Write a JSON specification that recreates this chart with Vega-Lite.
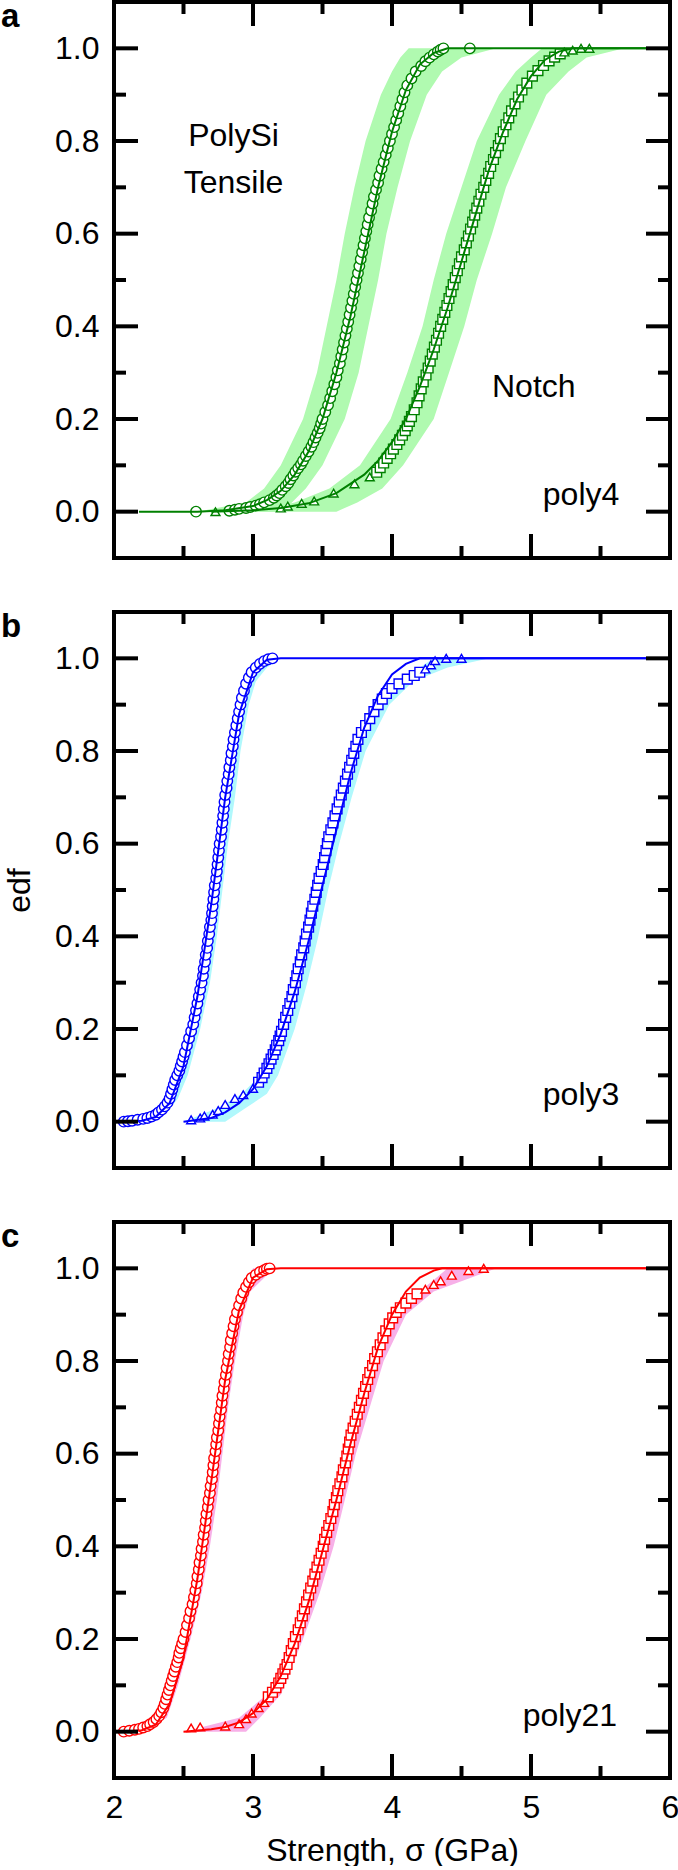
{
  "$schema": "https://vega.github.io/schema/vega-lite/v6.json",
  "padding": 0,
  "autosize": {"type": "pad"},
  "background": "white",
  "bounds": "flush",
  "spacing": 54,
  "datasets": {
    "ymaj": [{"v":0},{"v":0.2},{"v":0.4},{"v":0.6},{"v":0.8},{"v":1.0}],
    "ymin": [{"v":0.1},{"v":0.3},{"v":0.5},{"v":0.7},{"v":0.9}],
    "xmaj": [{"v":3},{"v":4},{"v":5}],
    "xmin": [{"v":2.5},{"v":3.5},{"v":4.5},{"v":5.5}],
    "a_bt": [{"y":0,"lo":2.6,"hi":3.2},{"y":0.02,"lo":2.95,"hi":3.28},{"y":0.05,"lo":3.08,"hi":3.38},{"y":0.1,"lo":3.2,"hi":3.5},{"y":0.2,"lo":3.36,"hi":3.66},{"y":0.3,"lo":3.46,"hi":3.76},{"y":0.4,"lo":3.53,"hi":3.83},{"y":0.5,"lo":3.6,"hi":3.9},{"y":0.6,"lo":3.66,"hi":3.96},{"y":0.7,"lo":3.73,"hi":4.04},{"y":0.8,"lo":3.81,"hi":4.13},{"y":0.9,"lo":3.92,"hi":4.25},{"y":0.95,"lo":4.0,"hi":4.36},{"y":0.98,"lo":4.06,"hi":4.5},{"y":1.0,"lo":4.12,"hi":4.75}],
    "a_bn": [{"y":0,"lo":3.0,"hi":3.6},{"y":0.02,"lo":3.3,"hi":3.75},{"y":0.05,"lo":3.55,"hi":3.93},{"y":0.1,"lo":3.77,"hi":4.08},{"y":0.2,"lo":3.99,"hi":4.3},{"y":0.3,"lo":4.11,"hi":4.41},{"y":0.4,"lo":4.22,"hi":4.52},{"y":0.5,"lo":4.3,"hi":4.61},{"y":0.6,"lo":4.39,"hi":4.72},{"y":0.7,"lo":4.5,"hi":4.82},{"y":0.8,"lo":4.61,"hi":4.96},{"y":0.9,"lo":4.77,"hi":5.11},{"y":0.95,"lo":4.89,"hi":5.27},{"y":0.98,"lo":5.0,"hi":5.4},{"y":1.0,"lo":5.08,"hi":5.67}],
    "a_fit": [
      {"s":"t","x":2.18,"y":0},{"s":"t","x":2.6,"y":0},{"s":"t","x":2.8,"y":0.003},{"s":"t","x":3.0,"y":0.012},{"s":"t","x":3.1,"y":0.025},{"s":"t","x":3.2,"y":0.045},{"s":"t","x":3.3,"y":0.08},{"s":"t","x":3.4,"y":0.13},{"s":"t","x":3.5,"y":0.2},{"s":"t","x":3.6,"y":0.3},{"s":"t","x":3.7,"y":0.42},{"s":"t","x":3.8,"y":0.56},{"s":"t","x":3.9,"y":0.7},{"s":"t","x":4.0,"y":0.82},{"s":"t","x":4.1,"y":0.91},{"s":"t","x":4.2,"y":0.965},{"s":"t","x":4.3,"y":0.99},{"s":"t","x":4.4,"y":1.0},{"s":"t","x":5.83,"y":1.0},
      {"s":"n","x":2.7,"y":0},{"s":"n","x":3.0,"y":0.003},{"s":"n","x":3.2,"y":0.008},{"s":"n","x":3.4,"y":0.018},{"s":"n","x":3.6,"y":0.04},{"s":"n","x":3.8,"y":0.08},{"s":"n","x":3.9,"y":0.11},{"s":"n","x":4.0,"y":0.15},{"s":"n","x":4.1,"y":0.2},{"s":"n","x":4.2,"y":0.27},{"s":"n","x":4.3,"y":0.35},{"s":"n","x":4.4,"y":0.44},{"s":"n","x":4.5,"y":0.54},{"s":"n","x":4.6,"y":0.64},{"s":"n","x":4.7,"y":0.74},{"s":"n","x":4.8,"y":0.82},{"s":"n","x":4.9,"y":0.89},{"s":"n","x":5.0,"y":0.94},{"s":"n","x":5.1,"y":0.975},{"s":"n","x":5.2,"y":0.993},{"s":"n","x":5.3,"y":1.0},{"s":"n","x":5.83,"y":1.0}
    ],
    "a_pts": [
      {"k":"tensile","y":0.0,"x":2.59},{"k":"tensile","y":0.002,"x":2.83},{"k":"tensile","y":0.004,"x":2.87},{"k":"tensile","y":0.006,"x":2.9},{"k":"tensile","y":0.008,"x":2.95},{"k":"tensile","y":0.01,"x":2.98},{"k":"tensile","y":0.013,"x":3.02},{"k":"tensile","y":0.016,"x":3.05},{"k":"tensile","y":0.02,"x":3.08},{"k":"tensile","y":0.025,"x":3.12},{"k":"tensile","y":0.03,"x":3.15},{"k":"tensile","y":0.035,"x":3.17},{"k":"tensile","y":0.04,"x":3.19},{"k":"tensile","y":0.047,"x":3.21},{"k":"tensile","y":0.055,"x":3.235},{"k":"tensile","y":0.062,"x":3.255},{"k":"tensile","y":0.07,"x":3.27},{"k":"tensile","y":0.078,"x":3.29},{"k":"tensile","y":0.086,"x":3.305},{"k":"tensile","y":0.094,"x":3.325},{"k":"tensile","y":0.102,"x":3.345},{"k":"tensile","y":0.11,"x":3.36},{"k":"tensile","y":0.12,"x":3.38},{"k":"tensile","y":0.13,"x":3.4},{"k":"tensile","y":0.14,"x":3.42},{"k":"tensile","y":0.15,"x":3.435},{"k":"tensile","y":0.16,"x":3.45},{"k":"tensile","y":0.17,"x":3.465},{"k":"tensile","y":0.18,"x":3.48},{"k":"tensile","y":0.19,"x":3.49},{"k":"tensile","y":0.2,"x":3.5},{"k":"tensile","y":0.215,"x":3.52},{"k":"tensile","y":0.23,"x":3.54},{"k":"tensile","y":0.245,"x":3.555},{"k":"tensile","y":0.26,"x":3.57},{"k":"tensile","y":0.275,"x":3.585},{"k":"tensile","y":0.29,"x":3.6},{"k":"tensile","y":0.305,"x":3.61},{"k":"tensile","y":0.32,"x":3.625},{"k":"tensile","y":0.335,"x":3.635},{"k":"tensile","y":0.35,"x":3.645},{"k":"tensile","y":0.365,"x":3.655},{"k":"tensile","y":0.38,"x":3.665},{"k":"tensile","y":0.395,"x":3.675},{"k":"tensile","y":0.41,"x":3.685},{"k":"tensile","y":0.425,"x":3.695},{"k":"tensile","y":0.44,"x":3.705},{"k":"tensile","y":0.455,"x":3.715},{"k":"tensile","y":0.47,"x":3.725},{"k":"tensile","y":0.485,"x":3.735},{"k":"tensile","y":0.5,"x":3.745},{"k":"tensile","y":0.515,"x":3.755},{"k":"tensile","y":0.53,"x":3.765},{"k":"tensile","y":0.545,"x":3.775},{"k":"tensile","y":0.56,"x":3.785},{"k":"tensile","y":0.575,"x":3.795},{"k":"tensile","y":0.59,"x":3.805},{"k":"tensile","y":0.605,"x":3.815},{"k":"tensile","y":0.62,"x":3.825},{"k":"tensile","y":0.635,"x":3.835},{"k":"tensile","y":0.65,"x":3.85},{"k":"tensile","y":0.665,"x":3.86},{"k":"tensile","y":0.68,"x":3.87},{"k":"tensile","y":0.695,"x":3.885},{"k":"tensile","y":0.71,"x":3.9},{"k":"tensile","y":0.725,"x":3.91},{"k":"tensile","y":0.74,"x":3.925},{"k":"tensile","y":0.755,"x":3.94},{"k":"tensile","y":0.77,"x":3.955},{"k":"tensile","y":0.785,"x":3.97},{"k":"tensile","y":0.8,"x":3.985},{"k":"tensile","y":0.815,"x":4.0},{"k":"tensile","y":0.83,"x":4.015},{"k":"tensile","y":0.845,"x":4.03},{"k":"tensile","y":0.86,"x":4.045},{"k":"tensile","y":0.875,"x":4.06},{"k":"tensile","y":0.89,"x":4.075},{"k":"tensile","y":0.905,"x":4.09},{"k":"tensile","y":0.92,"x":4.11},{"k":"tensile","y":0.935,"x":4.14},{"k":"tensile","y":0.95,"x":4.17},{"k":"tensile","y":0.962,"x":4.21},{"k":"tensile","y":0.972,"x":4.24},{"k":"tensile","y":0.98,"x":4.27},{"k":"tensile","y":0.987,"x":4.3},{"k":"tensile","y":0.993,"x":4.33},{"k":"tensile","y":0.997,"x":4.35},{"k":"tensile","y":1.0,"x":4.37},{"k":"tensile","y":1.0,"x":4.56},
      {"k":"tail","y":0.0,"x":2.73},{"k":"tail","y":0.008,"x":3.2},{"k":"tail","y":0.012,"x":3.25},{"k":"tail","y":0.018,"x":3.35},{"k":"tail","y":0.023,"x":3.44},{"k":"tail","y":0.04,"x":3.58},{"k":"tail","y":0.06,"x":3.73},{"k":"tail","y":0.075,"x":3.84},
      {"k":"notch","y":0.085,"x":3.89},{"k":"notch","y":0.095,"x":3.915},{"k":"notch","y":0.105,"x":3.94},{"k":"notch","y":0.115,"x":3.965},{"k":"notch","y":0.125,"x":3.99},{"k":"notch","y":0.135,"x":4.01},{"k":"notch","y":0.145,"x":4.035},{"k":"notch","y":0.155,"x":4.055},{"k":"notch","y":0.165,"x":4.075},{"k":"notch","y":0.175,"x":4.095},{"k":"notch","y":0.185,"x":4.11},{"k":"notch","y":0.195,"x":4.125},{"k":"notch","y":0.205,"x":4.14},{"k":"notch","y":0.22,"x":4.16},{"k":"notch","y":0.235,"x":4.18},{"k":"notch","y":0.25,"x":4.195},{"k":"notch","y":0.265,"x":4.21},{"k":"notch","y":0.28,"x":4.225},{"k":"notch","y":0.295,"x":4.245},{"k":"notch","y":0.31,"x":4.26},{"k":"notch","y":0.325,"x":4.275},{"k":"notch","y":0.34,"x":4.29},{"k":"notch","y":0.355,"x":4.305},{"k":"notch","y":0.37,"x":4.32},{"k":"notch","y":0.385,"x":4.335},{"k":"notch","y":0.4,"x":4.35},{"k":"notch","y":0.415,"x":4.365},{"k":"notch","y":0.43,"x":4.38},{"k":"notch","y":0.445,"x":4.395},{"k":"notch","y":0.46,"x":4.41},{"k":"notch","y":0.475,"x":4.425},{"k":"notch","y":0.49,"x":4.44},{"k":"notch","y":0.505,"x":4.455},{"k":"notch","y":0.52,"x":4.47},{"k":"notch","y":0.535,"x":4.485},{"k":"notch","y":0.55,"x":4.5},{"k":"notch","y":0.565,"x":4.52},{"k":"notch","y":0.58,"x":4.535},{"k":"notch","y":0.595,"x":4.55},{"k":"notch","y":0.61,"x":4.565},{"k":"notch","y":0.625,"x":4.58},{"k":"notch","y":0.64,"x":4.595},{"k":"notch","y":0.655,"x":4.61},{"k":"notch","y":0.67,"x":4.625},{"k":"notch","y":0.685,"x":4.64},{"k":"notch","y":0.7,"x":4.66},{"k":"notch","y":0.715,"x":4.675},{"k":"notch","y":0.73,"x":4.695},{"k":"notch","y":0.745,"x":4.71},{"k":"notch","y":0.76,"x":4.73},{"k":"notch","y":0.775,"x":4.745},{"k":"notch","y":0.79,"x":4.765},{"k":"notch","y":0.805,"x":4.78},{"k":"notch","y":0.82,"x":4.8},{"k":"notch","y":0.835,"x":4.82},{"k":"notch","y":0.85,"x":4.84},{"k":"notch","y":0.865,"x":4.86},{"k":"notch","y":0.88,"x":4.885},{"k":"notch","y":0.895,"x":4.91},{"k":"notch","y":0.91,"x":4.935},{"k":"notch","y":0.925,"x":4.97},{"k":"notch","y":0.94,"x":5.01},{"k":"notch","y":0.952,"x":5.05},{"k":"notch","y":0.963,"x":5.09},{"k":"notch","y":0.973,"x":5.13},{"k":"notch","y":0.981,"x":5.17},{"k":"notch","y":0.988,"x":5.21},
      {"k":"tail","y":0.992,"x":5.24},{"k":"tail","y":0.996,"x":5.3},{"k":"tail","y":1.0,"x":5.36},{"k":"tail","y":1.0,"x":5.42}
    ],
    "a_txt": [{"x":2.86,"y":0.81,"t":"PolySi"},{"x":2.86,"y":0.71,"t":"Tensile"},{"x":5.02,"y":0.27,"t":"Notch"},{"x":5.36,"y":0.035,"t":"poly4"}],
    "b_bt": [{"y":0,"lo":2.07,"hi":2.2},{"y":0.02,"lo":2.28,"hi":2.38},{"y":0.05,"lo":2.36,"hi":2.46},{"y":0.1,"lo":2.43,"hi":2.53},{"y":0.2,"lo":2.53,"hi":2.62},{"y":0.3,"lo":2.6,"hi":2.69},{"y":0.4,"lo":2.65,"hi":2.74},{"y":0.5,"lo":2.7,"hi":2.78},{"y":0.6,"lo":2.74,"hi":2.82},{"y":0.7,"lo":2.78,"hi":2.87},{"y":0.8,"lo":2.82,"hi":2.91},{"y":0.9,"lo":2.88,"hi":2.97},{"y":0.95,"lo":2.93,"hi":3.02},{"y":0.98,"lo":2.98,"hi":3.1},{"y":1.0,"lo":3.05,"hi":3.2}],
    "b_bn": [{"y":0,"lo":2.5,"hi":2.8},{"y":0.03,"lo":2.75,"hi":2.95},{"y":0.06,"lo":2.92,"hi":3.1},{"y":0.1,"lo":3.05,"hi":3.18},{"y":0.2,"lo":3.2,"hi":3.3},{"y":0.3,"lo":3.29,"hi":3.39},{"y":0.4,"lo":3.37,"hi":3.47},{"y":0.5,"lo":3.44,"hi":3.54},{"y":0.6,"lo":3.52,"hi":3.62},{"y":0.7,"lo":3.61,"hi":3.71},{"y":0.8,"lo":3.71,"hi":3.81},{"y":0.9,"lo":3.88,"hi":3.98},{"y":0.95,"lo":4.05,"hi":4.15},{"y":0.98,"lo":4.2,"hi":4.4},{"y":1.0,"lo":4.3,"hi":4.7}],
    "b_fit": [
      {"s":"t","x":2.05,"y":0},{"s":"t","x":2.2,"y":0.002},{"s":"t","x":2.3,"y":0.01},{"s":"t","x":2.4,"y":0.04},{"s":"t","x":2.5,"y":0.12},{"s":"t","x":2.6,"y":0.27},{"s":"t","x":2.7,"y":0.47},{"s":"t","x":2.8,"y":0.7},{"s":"t","x":2.9,"y":0.88},{"s":"t","x":3.0,"y":0.97},{"s":"t","x":3.1,"y":0.997},{"s":"t","x":3.2,"y":1.0},{"s":"t","x":5.83,"y":1.0},
      {"s":"n","x":2.5,"y":0},{"s":"n","x":2.7,"y":0.008},{"s":"n","x":2.8,"y":0.02},{"s":"n","x":2.9,"y":0.04},{"s":"n","x":3.0,"y":0.07},{"s":"n","x":3.1,"y":0.12},{"s":"n","x":3.2,"y":0.19},{"s":"n","x":3.3,"y":0.28},{"s":"n","x":3.4,"y":0.39},{"s":"n","x":3.5,"y":0.51},{"s":"n","x":3.6,"y":0.63},{"s":"n","x":3.7,"y":0.75},{"s":"n","x":3.8,"y":0.85},{"s":"n","x":3.9,"y":0.92},{"s":"n","x":4.0,"y":0.965},{"s":"n","x":4.1,"y":0.988},{"s":"n","x":4.2,"y":1.0},{"s":"n","x":5.83,"y":1.0}
    ],
    "b_pts": [
      {"k":"tensile","y":0.0,"x":2.07},{"k":"tensile","y":0.001,"x":2.1},{"k":"tensile","y":0.002,"x":2.13},{"k":"tensile","y":0.004,"x":2.17},{"k":"tensile","y":0.006,"x":2.21},{"k":"tensile","y":0.008,"x":2.24},{"k":"tensile","y":0.011,"x":2.27},{"k":"tensile","y":0.015,"x":2.3},{"k":"tensile","y":0.02,"x":2.32},{"k":"tensile","y":0.026,"x":2.345},{"k":"tensile","y":0.033,"x":2.365},{"k":"tensile","y":0.041,"x":2.385},{"k":"tensile","y":0.05,"x":2.4},{"k":"tensile","y":0.06,"x":2.41},{"k":"tensile","y":0.07,"x":2.42},{"k":"tensile","y":0.08,"x":2.43},{"k":"tensile","y":0.09,"x":2.44},{"k":"tensile","y":0.1,"x":2.455},{"k":"tensile","y":0.11,"x":2.47},{"k":"tensile","y":0.12,"x":2.48},{"k":"tensile","y":0.13,"x":2.49},{"k":"tensile","y":0.14,"x":2.5},{"k":"tensile","y":0.15,"x":2.51},{"k":"tensile","y":0.165,"x":2.525},{"k":"tensile","y":0.18,"x":2.54},{"k":"tensile","y":0.195,"x":2.555},{"k":"tensile","y":0.21,"x":2.57},{"k":"tensile","y":0.225,"x":2.58},{"k":"tensile","y":0.24,"x":2.59},{"k":"tensile","y":0.255,"x":2.6},{"k":"tensile","y":0.27,"x":2.61},{"k":"tensile","y":0.285,"x":2.62},{"k":"tensile","y":0.3,"x":2.63},{"k":"tensile","y":0.315,"x":2.64},{"k":"tensile","y":0.33,"x":2.645},{"k":"tensile","y":0.345,"x":2.655},{"k":"tensile","y":0.36,"x":2.66},{"k":"tensile","y":0.375,"x":2.67},{"k":"tensile","y":0.39,"x":2.675},{"k":"tensile","y":0.405,"x":2.685},{"k":"tensile","y":0.42,"x":2.69},{"k":"tensile","y":0.435,"x":2.7},{"k":"tensile","y":0.45,"x":2.705},{"k":"tensile","y":0.465,"x":2.71},{"k":"tensile","y":0.48,"x":2.715},{"k":"tensile","y":0.495,"x":2.72},{"k":"tensile","y":0.51,"x":2.725},{"k":"tensile","y":0.525,"x":2.735},{"k":"tensile","y":0.54,"x":2.74},{"k":"tensile","y":0.555,"x":2.745},{"k":"tensile","y":0.57,"x":2.75},{"k":"tensile","y":0.585,"x":2.755},{"k":"tensile","y":0.6,"x":2.76},{"k":"tensile","y":0.615,"x":2.77},{"k":"tensile","y":0.63,"x":2.775},{"k":"tensile","y":0.645,"x":2.78},{"k":"tensile","y":0.66,"x":2.785},{"k":"tensile","y":0.675,"x":2.79},{"k":"tensile","y":0.69,"x":2.795},{"k":"tensile","y":0.705,"x":2.8},{"k":"tensile","y":0.72,"x":2.81},{"k":"tensile","y":0.735,"x":2.815},{"k":"tensile","y":0.75,"x":2.825},{"k":"tensile","y":0.765,"x":2.83},{"k":"tensile","y":0.78,"x":2.84},{"k":"tensile","y":0.795,"x":2.845},{"k":"tensile","y":0.81,"x":2.855},{"k":"tensile","y":0.825,"x":2.86},{"k":"tensile","y":0.84,"x":2.87},{"k":"tensile","y":0.855,"x":2.88},{"k":"tensile","y":0.87,"x":2.89},{"k":"tensile","y":0.885,"x":2.9},{"k":"tensile","y":0.9,"x":2.91},{"k":"tensile","y":0.915,"x":2.92},{"k":"tensile","y":0.93,"x":2.935},{"k":"tensile","y":0.945,"x":2.95},{"k":"tensile","y":0.958,"x":2.97},{"k":"tensile","y":0.97,"x":2.99},{"k":"tensile","y":0.98,"x":3.02},{"k":"tensile","y":0.988,"x":3.05},{"k":"tensile","y":0.994,"x":3.08},{"k":"tensile","y":0.998,"x":3.11},{"k":"tensile","y":1.0,"x":3.14},
      {"k":"tail","y":0.004,"x":2.555},{"k":"tail","y":0.008,"x":2.62},{"k":"tail","y":0.012,"x":2.65},{"k":"tail","y":0.016,"x":2.71},{"k":"tail","y":0.024,"x":2.75},{"k":"tail","y":0.037,"x":2.8},{"k":"tail","y":0.05,"x":2.87},{"k":"tail","y":0.058,"x":2.93},{"k":"tail","y":0.072,"x":3.0},
      {"k":"notch","y":0.085,"x":3.04},{"k":"notch","y":0.095,"x":3.065},{"k":"notch","y":0.105,"x":3.08},{"k":"notch","y":0.115,"x":3.1},{"k":"notch","y":0.125,"x":3.115},{"k":"notch","y":0.135,"x":3.13},{"k":"notch","y":0.145,"x":3.145},{"k":"notch","y":0.155,"x":3.16},{"k":"notch","y":0.165,"x":3.17},{"k":"notch","y":0.175,"x":3.185},{"k":"notch","y":0.185,"x":3.195},{"k":"notch","y":0.195,"x":3.205},{"k":"notch","y":0.21,"x":3.22},{"k":"notch","y":0.225,"x":3.235},{"k":"notch","y":0.24,"x":3.25},{"k":"notch","y":0.255,"x":3.265},{"k":"notch","y":0.27,"x":3.28},{"k":"notch","y":0.285,"x":3.29},{"k":"notch","y":0.3,"x":3.305},{"k":"notch","y":0.315,"x":3.315},{"k":"notch","y":0.33,"x":3.325},{"k":"notch","y":0.345,"x":3.34},{"k":"notch","y":0.36,"x":3.35},{"k":"notch","y":0.375,"x":3.365},{"k":"notch","y":0.39,"x":3.375},{"k":"notch","y":0.405,"x":3.385},{"k":"notch","y":0.42,"x":3.4},{"k":"notch","y":0.435,"x":3.41},{"k":"notch","y":0.45,"x":3.42},{"k":"notch","y":0.465,"x":3.43},{"k":"notch","y":0.48,"x":3.445},{"k":"notch","y":0.495,"x":3.455},{"k":"notch","y":0.51,"x":3.465},{"k":"notch","y":0.525,"x":3.475},{"k":"notch","y":0.54,"x":3.49},{"k":"notch","y":0.555,"x":3.505},{"k":"notch","y":0.57,"x":3.515},{"k":"notch","y":0.585,"x":3.525},{"k":"notch","y":0.6,"x":3.535},{"k":"notch","y":0.615,"x":3.545},{"k":"notch","y":0.63,"x":3.56},{"k":"notch","y":0.645,"x":3.575},{"k":"notch","y":0.66,"x":3.59},{"k":"notch","y":0.675,"x":3.605},{"k":"notch","y":0.69,"x":3.62},{"k":"notch","y":0.705,"x":3.635},{"k":"notch","y":0.72,"x":3.65},{"k":"notch","y":0.735,"x":3.665},{"k":"notch","y":0.75,"x":3.68},{"k":"notch","y":0.765,"x":3.695},{"k":"notch","y":0.78,"x":3.71},{"k":"notch","y":0.795,"x":3.725},{"k":"notch","y":0.81,"x":3.74},{"k":"notch","y":0.825,"x":3.755},{"k":"notch","y":0.84,"x":3.78},{"k":"notch","y":0.855,"x":3.81},{"k":"notch","y":0.87,"x":3.84},{"k":"notch","y":0.885,"x":3.87},{"k":"notch","y":0.9,"x":3.9},{"k":"notch","y":0.912,"x":3.93},{"k":"notch","y":0.924,"x":3.96},{"k":"notch","y":0.935,"x":4.0},{"k":"notch","y":0.945,"x":4.05},{"k":"notch","y":0.955,"x":4.11},{"k":"notch","y":0.963,"x":4.16},{"k":"notch","y":0.97,"x":4.2},
      {"k":"tail","y":0.977,"x":4.24},{"k":"tail","y":0.986,"x":4.28},{"k":"tail","y":0.995,"x":4.31},{"k":"tail","y":1.0,"x":4.39},{"k":"tail","y":1.0,"x":4.5}
    ],
    "b_txt": [{"x":5.36,"y":0.058,"t":"poly3"}],
    "c_bt": [{"y":0,"lo":2.07,"hi":2.2},{"y":0.03,"lo":2.3,"hi":2.38},{"y":0.1,"lo":2.39,"hi":2.46},{"y":0.2,"lo":2.48,"hi":2.55},{"y":0.3,"lo":2.56,"hi":2.63},{"y":0.4,"lo":2.62,"hi":2.69},{"y":0.5,"lo":2.67,"hi":2.74},{"y":0.6,"lo":2.71,"hi":2.78},{"y":0.7,"lo":2.76,"hi":2.82},{"y":0.8,"lo":2.8,"hi":2.87},{"y":0.9,"lo":2.86,"hi":2.93},{"y":0.95,"lo":2.91,"hi":2.98},{"y":1.0,"lo":3.0,"hi":3.15}],
    "c_bn": [{"y":0,"lo":2.5,"hi":2.95},{"y":0.03,"lo":2.9,"hi":3.05},{"y":0.08,"lo":3.1,"hi":3.2},{"y":0.2,"lo":3.28,"hi":3.36},{"y":0.3,"lo":3.4,"hi":3.48},{"y":0.4,"lo":3.5,"hi":3.58},{"y":0.5,"lo":3.58,"hi":3.66},{"y":0.6,"lo":3.66,"hi":3.74},{"y":0.7,"lo":3.76,"hi":3.84},{"y":0.8,"lo":3.86,"hi":3.94},{"y":0.9,"lo":4.02,"hi":4.1},{"y":0.95,"lo":4.2,"hi":4.3},{"y":1.0,"lo":4.4,"hi":4.75}],
    "c_fit": [
      {"s":"t","x":2.05,"y":0},{"s":"t","x":2.2,"y":0.003},{"s":"t","x":2.3,"y":0.015},{"s":"t","x":2.4,"y":0.06},{"s":"t","x":2.5,"y":0.16},{"s":"t","x":2.6,"y":0.33},{"s":"t","x":2.7,"y":0.54},{"s":"t","x":2.8,"y":0.76},{"s":"t","x":2.9,"y":0.91},{"s":"t","x":3.0,"y":0.98},{"s":"t","x":3.1,"y":0.998},{"s":"t","x":3.2,"y":1.0},{"s":"t","x":5.83,"y":1.0},
      {"s":"n","x":2.5,"y":0},{"s":"n","x":2.7,"y":0.005},{"s":"n","x":2.8,"y":0.01},{"s":"n","x":2.9,"y":0.02},{"s":"n","x":3.0,"y":0.04},{"s":"n","x":3.1,"y":0.07},{"s":"n","x":3.2,"y":0.12},{"s":"n","x":3.3,"y":0.19},{"s":"n","x":3.4,"y":0.28},{"s":"n","x":3.5,"y":0.39},{"s":"n","x":3.6,"y":0.5},{"s":"n","x":3.7,"y":0.62},{"s":"n","x":3.8,"y":0.73},{"s":"n","x":3.9,"y":0.83},{"s":"n","x":4.0,"y":0.9},{"s":"n","x":4.1,"y":0.95},{"s":"n","x":4.2,"y":0.98},{"s":"n","x":4.3,"y":0.995},{"s":"n","x":4.36,"y":1.0},{"s":"n","x":5.83,"y":1.0}
    ],
    "c_pts": [
      {"k":"tensile","y":0.0,"x":2.07},{"k":"tensile","y":0.002,"x":2.11},{"k":"tensile","y":0.004,"x":2.15},{"k":"tensile","y":0.006,"x":2.18},{"k":"tensile","y":0.009,"x":2.21},{"k":"tensile","y":0.012,"x":2.24},{"k":"tensile","y":0.016,"x":2.26},{"k":"tensile","y":0.021,"x":2.285},{"k":"tensile","y":0.027,"x":2.305},{"k":"tensile","y":0.034,"x":2.325},{"k":"tensile","y":0.042,"x":2.34},{"k":"tensile","y":0.051,"x":2.355},{"k":"tensile","y":0.06,"x":2.365},{"k":"tensile","y":0.07,"x":2.375},{"k":"tensile","y":0.08,"x":2.385},{"k":"tensile","y":0.09,"x":2.395},{"k":"tensile","y":0.1,"x":2.405},{"k":"tensile","y":0.11,"x":2.415},{"k":"tensile","y":0.12,"x":2.425},{"k":"tensile","y":0.13,"x":2.435},{"k":"tensile","y":0.14,"x":2.445},{"k":"tensile","y":0.15,"x":2.455},{"k":"tensile","y":0.16,"x":2.465},{"k":"tensile","y":0.17,"x":2.47},{"k":"tensile","y":0.18,"x":2.48},{"k":"tensile","y":0.19,"x":2.49},{"k":"tensile","y":0.2,"x":2.5},{"k":"tensile","y":0.215,"x":2.515},{"k":"tensile","y":0.23,"x":2.525},{"k":"tensile","y":0.245,"x":2.54},{"k":"tensile","y":0.26,"x":2.55},{"k":"tensile","y":0.275,"x":2.565},{"k":"tensile","y":0.29,"x":2.575},{"k":"tensile","y":0.305,"x":2.585},{"k":"tensile","y":0.32,"x":2.595},{"k":"tensile","y":0.335,"x":2.6},{"k":"tensile","y":0.35,"x":2.61},{"k":"tensile","y":0.365,"x":2.615},{"k":"tensile","y":0.38,"x":2.625},{"k":"tensile","y":0.395,"x":2.63},{"k":"tensile","y":0.41,"x":2.64},{"k":"tensile","y":0.425,"x":2.645},{"k":"tensile","y":0.44,"x":2.655},{"k":"tensile","y":0.455,"x":2.66},{"k":"tensile","y":0.47,"x":2.665},{"k":"tensile","y":0.485,"x":2.675},{"k":"tensile","y":0.5,"x":2.68},{"k":"tensile","y":0.515,"x":2.69},{"k":"tensile","y":0.53,"x":2.695},{"k":"tensile","y":0.545,"x":2.705},{"k":"tensile","y":0.56,"x":2.71},{"k":"tensile","y":0.575,"x":2.715},{"k":"tensile","y":0.59,"x":2.72},{"k":"tensile","y":0.605,"x":2.73},{"k":"tensile","y":0.62,"x":2.735},{"k":"tensile","y":0.635,"x":2.74},{"k":"tensile","y":0.65,"x":2.75},{"k":"tensile","y":0.665,"x":2.755},{"k":"tensile","y":0.68,"x":2.76},{"k":"tensile","y":0.695,"x":2.77},{"k":"tensile","y":0.71,"x":2.775},{"k":"tensile","y":0.725,"x":2.78},{"k":"tensile","y":0.74,"x":2.79},{"k":"tensile","y":0.755,"x":2.795},{"k":"tensile","y":0.77,"x":2.805},{"k":"tensile","y":0.785,"x":2.81},{"k":"tensile","y":0.8,"x":2.82},{"k":"tensile","y":0.815,"x":2.825},{"k":"tensile","y":0.83,"x":2.835},{"k":"tensile","y":0.845,"x":2.84},{"k":"tensile","y":0.86,"x":2.85},{"k":"tensile","y":0.875,"x":2.86},{"k":"tensile","y":0.89,"x":2.87},{"k":"tensile","y":0.905,"x":2.885},{"k":"tensile","y":0.92,"x":2.9},{"k":"tensile","y":0.935,"x":2.915},{"k":"tensile","y":0.948,"x":2.93},{"k":"tensile","y":0.96,"x":2.95},{"k":"tensile","y":0.97,"x":2.97},{"k":"tensile","y":0.979,"x":2.99},{"k":"tensile","y":0.986,"x":3.02},{"k":"tensile","y":0.992,"x":3.05},{"k":"tensile","y":0.996,"x":3.08},{"k":"tensile","y":0.999,"x":3.1},{"k":"tensile","y":1.0,"x":3.12},
      {"k":"tail","y":0.008,"x":2.555},{"k":"tail","y":0.01,"x":2.62},{"k":"tail","y":0.012,"x":2.8},{"k":"tail","y":0.017,"x":2.9},{"k":"tail","y":0.028,"x":2.95},{"k":"tail","y":0.04,"x":2.99},{"k":"tail","y":0.052,"x":3.04},{"k":"tail","y":0.063,"x":3.08},
      {"k":"notch","y":0.075,"x":3.11},{"k":"notch","y":0.085,"x":3.14},{"k":"notch","y":0.095,"x":3.165},{"k":"notch","y":0.105,"x":3.185},{"k":"notch","y":0.115,"x":3.2},{"k":"notch","y":0.125,"x":3.215},{"k":"notch","y":0.135,"x":3.23},{"k":"notch","y":0.145,"x":3.245},{"k":"notch","y":0.16,"x":3.26},{"k":"notch","y":0.175,"x":3.275},{"k":"notch","y":0.19,"x":3.29},{"k":"notch","y":0.205,"x":3.305},{"k":"notch","y":0.22,"x":3.325},{"k":"notch","y":0.235,"x":3.34},{"k":"notch","y":0.25,"x":3.355},{"k":"notch","y":0.265,"x":3.37},{"k":"notch","y":0.28,"x":3.385},{"k":"notch","y":0.295,"x":3.4},{"k":"notch","y":0.31,"x":3.415},{"k":"notch","y":0.325,"x":3.43},{"k":"notch","y":0.34,"x":3.445},{"k":"notch","y":0.355,"x":3.46},{"k":"notch","y":0.37,"x":3.475},{"k":"notch","y":0.385,"x":3.49},{"k":"notch","y":0.4,"x":3.505},{"k":"notch","y":0.415,"x":3.515},{"k":"notch","y":0.43,"x":3.53},{"k":"notch","y":0.445,"x":3.545},{"k":"notch","y":0.46,"x":3.56},{"k":"notch","y":0.475,"x":3.575},{"k":"notch","y":0.49,"x":3.585},{"k":"notch","y":0.505,"x":3.6},{"k":"notch","y":0.52,"x":3.61},{"k":"notch","y":0.535,"x":3.625},{"k":"notch","y":0.55,"x":3.64},{"k":"notch","y":0.565,"x":3.65},{"k":"notch","y":0.58,"x":3.665},{"k":"notch","y":0.595,"x":3.675},{"k":"notch","y":0.61,"x":3.685},{"k":"notch","y":0.625,"x":3.695},{"k":"notch","y":0.64,"x":3.705},{"k":"notch","y":0.655,"x":3.72},{"k":"notch","y":0.67,"x":3.735},{"k":"notch","y":0.685,"x":3.75},{"k":"notch","y":0.7,"x":3.765},{"k":"notch","y":0.715,"x":3.78},{"k":"notch","y":0.73,"x":3.795},{"k":"notch","y":0.745,"x":3.81},{"k":"notch","y":0.76,"x":3.825},{"k":"notch","y":0.775,"x":3.84},{"k":"notch","y":0.79,"x":3.86},{"k":"notch","y":0.805,"x":3.875},{"k":"notch","y":0.82,"x":3.895},{"k":"notch","y":0.835,"x":3.915},{"k":"notch","y":0.85,"x":3.935},{"k":"notch","y":0.865,"x":3.955},{"k":"notch","y":0.88,"x":3.98},{"k":"notch","y":0.893,"x":4.005},{"k":"notch","y":0.905,"x":4.03},{"k":"notch","y":0.915,"x":4.06},{"k":"notch","y":0.925,"x":4.1},{"k":"notch","y":0.935,"x":4.14},{"k":"notch","y":0.945,"x":4.18},
      {"k":"tail","y":0.955,"x":4.24},{"k":"tail","y":0.965,"x":4.3},{"k":"tail","y":0.973,"x":4.35},{"k":"tail","y":0.985,"x":4.43},{"k":"tail","y":0.995,"x":4.55},{"k":"tail","y":1.0,"x":4.66}
    ],
    "c_txt": [{"x":5.28,"y":0.033,"t":"poly21"}]
  },
  "vconcat": [
    {
      "width": 556, "height": 556,
      "view": {"stroke": null},
      "layer": [
        {"data": {"name": "a_bt"}, "mark": {"type": "area", "orient": "horizontal", "color": "#b0fab0"},
         "encoding": {
           "y": {"field": "y", "type": "quantitative", "scale": {"domain": [-0.1, 1.1], "nice": false, "zero": false}, "axis": {"orient": "left", "ticks": false, "tickSize": 0, "domain": false, "values": [0, 0.2, 0.4, 0.6, 0.8, 1], "format": ".1f", "labelPadding": 15, "title": null}},
           "x": {"field": "lo", "type": "quantitative", "scale": {"domain": [2, 6], "nice": false, "zero": false}, "axis": null},
           "x2": {"field": "hi"}}},
        {"data": {"name": "a_bn"}, "mark": {"type": "area", "orient": "horizontal", "color": "#b0fab0"},
         "encoding": {"y": {"field": "y", "type": "quantitative"}, "x": {"field": "lo", "type": "quantitative"}, "x2": {"field": "hi"}}},
        {"data": {"name": "a_pts"}, "mark": {"type": "point", "filled": true, "fill": "white", "stroke": "#008000", "strokeWidth": 1.4, "opacity": 1},
         "encoding": {
           "shape": {"field": "k", "type": "nominal", "scale": {"domain": ["tensile", "notch", "tail"], "range": ["circle", "square", "triangle-up"]}, "legend": null},
           "size": {"field": "k", "type": "nominal", "scale": {"domain": ["tensile", "notch", "tail"], "range": [110, 80, 170]}, "legend": null},
           "y": {"field": "y", "type": "quantitative"}, "x": {"field": "x", "type": "quantitative"}}},
        {"data": {"name": "a_fit"}, "mark": {"type": "line", "color": "#008000", "strokeWidth": 2},
         "encoding": {"detail": {"field": "s"}, "y": {"field": "y", "type": "quantitative"}, "x": {"field": "x", "type": "quantitative"}}},
        {"data": {"name": "a_txt"}, "mark": {"type": "text", "fontSize": 32, "font": "Liberation Sans", "color": "black", "align": "center", "baseline": "middle"},
         "encoding": {"text": {"field": "t"}, "y": {"field": "y", "type": "quantitative"}, "x": {"field": "x", "type": "quantitative"}}},
        {"data": {"values": [{"t": "a"}]}, "mark": {"type": "text", "fontSize": 33, "fontWeight": "bold", "font": "Liberation Sans", "color": "black", "align": "left", "baseline": "alphabetic"},
         "encoding": {"text": {"field": "t"}, "x": {"datum": 1.187, "type": "quantitative"}, "y": {"datum": 1.0471, "type": "quantitative"}}},
        {"data": {"name": "ymaj"}, "mark": {"type": "rule", "color": "black", "strokeWidth": 4}, "encoding": {"y": {"field": "v", "type": "quantitative"}, "x": {"datum": 2}, "x2": {"datum": 2.1727}}},
        {"data": {"name": "ymaj"}, "mark": {"type": "rule", "color": "black", "strokeWidth": 4}, "encoding": {"y": {"field": "v", "type": "quantitative"}, "x": {"datum": 6}, "x2": {"datum": 5.8273}}},
        {"data": {"name": "ymin"}, "mark": {"type": "rule", "color": "black", "strokeWidth": 4}, "encoding": {"y": {"field": "v", "type": "quantitative"}, "x": {"datum": 2}, "x2": {"datum": 2.0863}}},
        {"data": {"name": "ymin"}, "mark": {"type": "rule", "color": "black", "strokeWidth": 4}, "encoding": {"y": {"field": "v", "type": "quantitative"}, "x": {"datum": 6}, "x2": {"datum": 5.9137}}},
        {"data": {"name": "xmaj"}, "mark": {"type": "rule", "color": "black", "strokeWidth": 4}, "encoding": {"x": {"field": "v", "type": "quantitative"}, "y": {"datum": -0.1}, "y2": {"datum": -0.0482}}},
        {"data": {"name": "xmaj"}, "mark": {"type": "rule", "color": "black", "strokeWidth": 4}, "encoding": {"x": {"field": "v", "type": "quantitative"}, "y": {"datum": 1.1}, "y2": {"datum": 1.0482}}},
        {"data": {"name": "xmin"}, "mark": {"type": "rule", "color": "black", "strokeWidth": 4}, "encoding": {"x": {"field": "v", "type": "quantitative"}, "y": {"datum": -0.1}, "y2": {"datum": -0.0741}}},
        {"data": {"name": "xmin"}, "mark": {"type": "rule", "color": "black", "strokeWidth": 4}, "encoding": {"x": {"field": "v", "type": "quantitative"}, "y": {"datum": 1.1}, "y2": {"datum": 1.0741}}},
        {"data": {"values": [{}]}, "mark": {"type": "rect", "filled": false, "fill": null, "stroke": "black", "strokeWidth": 4}, "encoding": {"x": {"datum": 2}, "x2": {"datum": 6}, "y": {"datum": -0.1}, "y2": {"datum": 1.1}}}
      ]
    },
    {
      "width": 556, "height": 556,
      "view": {"stroke": null},
      "layer": [
        {"data": {"name": "b_bt"}, "mark": {"type": "area", "orient": "horizontal", "color": "#b0f8fc"},
         "encoding": {
           "y": {"field": "y", "type": "quantitative", "scale": {"domain": [-0.1, 1.1], "nice": false, "zero": false}, "axis": {"orient": "left", "ticks": false, "tickSize": 0, "domain": false, "values": [0, 0.2, 0.4, 0.6, 0.8, 1], "format": ".1f", "labelPadding": 15, "title": "edf", "titlePadding": 18}},
           "x": {"field": "lo", "type": "quantitative", "scale": {"domain": [2, 6], "nice": false, "zero": false}, "axis": null},
           "x2": {"field": "hi"}}},
        {"data": {"name": "b_bn"}, "mark": {"type": "area", "orient": "horizontal", "color": "#b0f8fc"},
         "encoding": {"y": {"field": "y", "type": "quantitative"}, "x": {"field": "lo", "type": "quantitative"}, "x2": {"field": "hi"}}},
        {"data": {"name": "b_pts"}, "mark": {"type": "point", "filled": true, "fill": "white", "stroke": "#0000ff", "strokeWidth": 1.4, "opacity": 1},
         "encoding": {
           "shape": {"field": "k", "type": "nominal", "scale": {"domain": ["tensile", "notch", "tail"], "range": ["circle", "square", "triangle-up"]}, "legend": null},
           "size": {"field": "k", "type": "nominal", "scale": {"domain": ["tensile", "notch", "tail"], "range": [110, 80, 170]}, "legend": null},
           "y": {"field": "y", "type": "quantitative"}, "x": {"field": "x", "type": "quantitative"}}},
        {"data": {"name": "b_fit"}, "mark": {"type": "line", "color": "#0000ff", "strokeWidth": 2},
         "encoding": {"detail": {"field": "s"}, "y": {"field": "y", "type": "quantitative"}, "x": {"field": "x", "type": "quantitative"}}},
        {"data": {"name": "b_txt"}, "mark": {"type": "text", "fontSize": 32, "font": "Liberation Sans", "color": "black", "align": "center", "baseline": "middle"},
         "encoding": {"text": {"field": "t"}, "y": {"field": "y", "type": "quantitative"}, "x": {"field": "x", "type": "quantitative"}}},
        {"data": {"values": [{"t": "b"}]}, "mark": {"type": "text", "fontSize": 33, "fontWeight": "bold", "font": "Liberation Sans", "color": "black", "align": "left", "baseline": "alphabetic"},
         "encoding": {"text": {"field": "t"}, "x": {"datum": 1.187, "type": "quantitative"}, "y": {"datum": 1.0471, "type": "quantitative"}}},
        {"data": {"name": "ymaj"}, "mark": {"type": "rule", "color": "black", "strokeWidth": 4}, "encoding": {"y": {"field": "v", "type": "quantitative"}, "x": {"datum": 2}, "x2": {"datum": 2.1727}}},
        {"data": {"name": "ymaj"}, "mark": {"type": "rule", "color": "black", "strokeWidth": 4}, "encoding": {"y": {"field": "v", "type": "quantitative"}, "x": {"datum": 6}, "x2": {"datum": 5.8273}}},
        {"data": {"name": "ymin"}, "mark": {"type": "rule", "color": "black", "strokeWidth": 4}, "encoding": {"y": {"field": "v", "type": "quantitative"}, "x": {"datum": 2}, "x2": {"datum": 2.0863}}},
        {"data": {"name": "ymin"}, "mark": {"type": "rule", "color": "black", "strokeWidth": 4}, "encoding": {"y": {"field": "v", "type": "quantitative"}, "x": {"datum": 6}, "x2": {"datum": 5.9137}}},
        {"data": {"name": "xmaj"}, "mark": {"type": "rule", "color": "black", "strokeWidth": 4}, "encoding": {"x": {"field": "v", "type": "quantitative"}, "y": {"datum": -0.1}, "y2": {"datum": -0.0482}}},
        {"data": {"name": "xmaj"}, "mark": {"type": "rule", "color": "black", "strokeWidth": 4}, "encoding": {"x": {"field": "v", "type": "quantitative"}, "y": {"datum": 1.1}, "y2": {"datum": 1.0482}}},
        {"data": {"name": "xmin"}, "mark": {"type": "rule", "color": "black", "strokeWidth": 4}, "encoding": {"x": {"field": "v", "type": "quantitative"}, "y": {"datum": -0.1}, "y2": {"datum": -0.0741}}},
        {"data": {"name": "xmin"}, "mark": {"type": "rule", "color": "black", "strokeWidth": 4}, "encoding": {"x": {"field": "v", "type": "quantitative"}, "y": {"datum": 1.1}, "y2": {"datum": 1.0741}}},
        {"data": {"values": [{}]}, "mark": {"type": "rect", "filled": false, "fill": null, "stroke": "black", "strokeWidth": 4}, "encoding": {"x": {"datum": 2}, "x2": {"datum": 6}, "y": {"datum": -0.1}, "y2": {"datum": 1.1}}}
      ]
    },
    {
      "width": 556, "height": 556,
      "view": {"stroke": null},
      "layer": [
        {"data": {"name": "c_bt"}, "mark": {"type": "area", "orient": "horizontal", "color": "#f7b0e8"},
         "encoding": {
           "y": {"field": "y", "type": "quantitative", "scale": {"domain": [-0.1, 1.1], "nice": false, "zero": false}, "axis": {"orient": "left", "ticks": false, "tickSize": 0, "domain": false, "values": [0, 0.2, 0.4, 0.6, 0.8, 1], "format": ".1f", "labelPadding": 15, "title": null}},
           "x": {"field": "lo", "type": "quantitative", "scale": {"domain": [2, 6], "nice": false, "zero": false}, "axis": {"orient": "bottom", "ticks": false, "tickSize": 0, "domain": false, "values": [2, 3, 4, 5, 6], "format": "d", "labelFlush": false, "labelPadding": 14, "title": "Strength, σ (GPa)", "titlePadding": 12}},
           "x2": {"field": "hi"}}},
        {"data": {"name": "c_bn"}, "mark": {"type": "area", "orient": "horizontal", "color": "#f7b0e8"},
         "encoding": {"y": {"field": "y", "type": "quantitative"}, "x": {"field": "lo", "type": "quantitative"}, "x2": {"field": "hi"}}},
        {"data": {"name": "c_pts"}, "mark": {"type": "point", "filled": true, "fill": "white", "stroke": "#ff0000", "strokeWidth": 1.4, "opacity": 1},
         "encoding": {
           "shape": {"field": "k", "type": "nominal", "scale": {"domain": ["tensile", "notch", "tail"], "range": ["circle", "square", "triangle-up"]}, "legend": null},
           "size": {"field": "k", "type": "nominal", "scale": {"domain": ["tensile", "notch", "tail"], "range": [110, 80, 170]}, "legend": null},
           "y": {"field": "y", "type": "quantitative"}, "x": {"field": "x", "type": "quantitative"}}},
        {"data": {"name": "c_fit"}, "mark": {"type": "line", "color": "#ff0000", "strokeWidth": 2},
         "encoding": {"detail": {"field": "s"}, "y": {"field": "y", "type": "quantitative"}, "x": {"field": "x", "type": "quantitative"}}},
        {"data": {"name": "c_txt"}, "mark": {"type": "text", "fontSize": 32, "font": "Liberation Sans", "color": "black", "align": "center", "baseline": "middle"},
         "encoding": {"text": {"field": "t"}, "y": {"field": "y", "type": "quantitative"}, "x": {"field": "x", "type": "quantitative"}}},
        {"data": {"values": [{"t": "c"}]}, "mark": {"type": "text", "fontSize": 33, "fontWeight": "bold", "font": "Liberation Sans", "color": "black", "align": "left", "baseline": "alphabetic"},
         "encoding": {"text": {"field": "t"}, "x": {"datum": 1.187, "type": "quantitative"}, "y": {"datum": 1.0471, "type": "quantitative"}}},
        {"data": {"name": "ymaj"}, "mark": {"type": "rule", "color": "black", "strokeWidth": 4}, "encoding": {"y": {"field": "v", "type": "quantitative"}, "x": {"datum": 2}, "x2": {"datum": 2.1727}}},
        {"data": {"name": "ymaj"}, "mark": {"type": "rule", "color": "black", "strokeWidth": 4}, "encoding": {"y": {"field": "v", "type": "quantitative"}, "x": {"datum": 6}, "x2": {"datum": 5.8273}}},
        {"data": {"name": "ymin"}, "mark": {"type": "rule", "color": "black", "strokeWidth": 4}, "encoding": {"y": {"field": "v", "type": "quantitative"}, "x": {"datum": 2}, "x2": {"datum": 2.0863}}},
        {"data": {"name": "ymin"}, "mark": {"type": "rule", "color": "black", "strokeWidth": 4}, "encoding": {"y": {"field": "v", "type": "quantitative"}, "x": {"datum": 6}, "x2": {"datum": 5.9137}}},
        {"data": {"name": "xmaj"}, "mark": {"type": "rule", "color": "black", "strokeWidth": 4}, "encoding": {"x": {"field": "v", "type": "quantitative"}, "y": {"datum": -0.1}, "y2": {"datum": -0.0482}}},
        {"data": {"name": "xmaj"}, "mark": {"type": "rule", "color": "black", "strokeWidth": 4}, "encoding": {"x": {"field": "v", "type": "quantitative"}, "y": {"datum": 1.1}, "y2": {"datum": 1.0482}}},
        {"data": {"name": "xmin"}, "mark": {"type": "rule", "color": "black", "strokeWidth": 4}, "encoding": {"x": {"field": "v", "type": "quantitative"}, "y": {"datum": -0.1}, "y2": {"datum": -0.0741}}},
        {"data": {"name": "xmin"}, "mark": {"type": "rule", "color": "black", "strokeWidth": 4}, "encoding": {"x": {"field": "v", "type": "quantitative"}, "y": {"datum": 1.1}, "y2": {"datum": 1.0741}}},
        {"data": {"values": [{}]}, "mark": {"type": "rect", "filled": false, "fill": null, "stroke": "black", "strokeWidth": 4}, "encoding": {"x": {"datum": 2}, "x2": {"datum": 6}, "y": {"datum": -0.1}, "y2": {"datum": 1.1}}}
      ]
    }
  ],
  "config": {
    "view": {"stroke": null},
    "font": "Liberation Sans",
    "axis": {"grid": false, "tickColor": "black", "labelColor": "black", "titleColor": "black", "labelFont": "Liberation Sans", "titleFont": "Liberation Sans", "labelFontSize": 32, "titleFontSize": 32, "titleFontWeight": "normal", "labelFlush": false}
  }
}
